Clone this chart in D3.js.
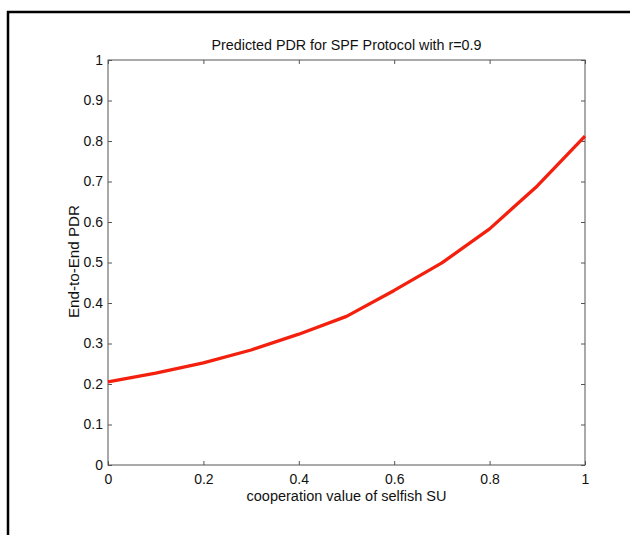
<!DOCTYPE html>
<html><head><meta charset="utf-8">
<script src="https://cdn.jsdelivr.net/npm/d3@7"></script>
<style>body{margin:0;background:#fff}svg{display:block}</style>
</head><body>
<script>
const xValues = [0,0.1,0.2,0.3,0.4,0.5,0.6,0.7,0.8,0.9,1];
const pdrValues = [0.205,0.227,0.252,0.284,0.323,0.367,0.431,0.499,0.583,0.689,0.812];
const xTicks = [0,0.2,0.4,0.6,0.8,1];
const yTicks = [0,0.1,0.2,0.3,0.4,0.5,0.6,0.7,0.8,0.9,1];
const titleText = "Predicted PDR for SPF Protocol with r=0.9";
const xLabel = "cooperation value of selfish SU";
const yLabel = "End-to-End PDR";

const W=630,H=535;
const L=108,R=585,T=60,B=465;
const svg=d3.select("body").append("svg").attr("width",W).attr("height",H);
svg.append("rect").attr("width",W).attr("height",H).attr("fill","#fff");
svg.append("line").attr("x1",8).attr("x2",8).attr("y1",11).attr("y2",H).attr("stroke","#000").attr("stroke-width",2.5);
svg.append("line").attr("x1",7).attr("x2",W).attr("y1",12).attr("y2",12).attr("stroke","#000").attr("stroke-width",2.5);

const x=d3.scaleLinear().domain([0,1]).range([L,R]);
const y=d3.scaleLinear().domain([0,1]).range([B,T]);
const font="'Liberation Sans', Arial, sans-serif";
const axCol="#555";

svg.append("rect").attr("x",L).attr("y",T).attr("width",R-L).attr("height",B-T).attr("fill","none").attr("stroke",axCol).attr("stroke-width",1);

const fmt=d=>d===0?"0":d===1?"1":String(d);
const gx=svg.append("g").attr("transform",`translate(0,${B})`).call(d3.axisBottom(x).tickValues(xTicks).tickFormat(fmt).tickSize(-4).tickPadding(9));
const gxt=svg.append("g").attr("transform",`translate(0,${T})`).call(d3.axisTop(x).tickValues(xTicks).tickFormat("").tickSize(-4));
const gy=svg.append("g").attr("transform",`translate(${L},0)`).call(d3.axisLeft(y).tickValues(yTicks).tickFormat(fmt).tickSize(-4).tickPadding(5));
const gyr=svg.append("g").attr("transform",`translate(${R},0)`).call(d3.axisRight(y).tickValues(yTicks).tickFormat("").tickSize(-4));
[gx,gxt,gy,gyr].forEach(g=>{
  g.select(".domain").remove();
  g.selectAll("line").attr("stroke",axCol);
  g.selectAll("text").attr("fill","#111").style("font-family",font).style("font-size","14px");
});

const line=d3.line().x((d,i)=>x(xValues[i])).y(d=>y(d));
svg.append("path").datum(pdrValues).attr("d",line).attr("fill","none").attr("stroke","#f4200e").attr("stroke-width",3.3).attr("stroke-linejoin","round");

svg.append("text").attr("x",(L+R)/2).attr("y",50).attr("text-anchor","middle").style("font-family",font).style("font-size","14px").attr("fill","#111")
  .attr("textLength",270).attr("lengthAdjust","spacingAndGlyphs").text(titleText);
svg.append("text").attr("x",(L+R)/2).attr("y",501).attr("text-anchor","middle").style("font-family",font).style("font-size","14px").attr("fill","#111")
  .attr("textLength",200).attr("lengthAdjust","spacingAndGlyphs").text(xLabel);
svg.append("text").attr("transform",`translate(79,261.5) rotate(-90)`).attr("text-anchor","middle").style("font-family",font).style("font-size","15px").attr("fill","#111")
  .attr("textLength",113).attr("lengthAdjust","spacingAndGlyphs").text(yLabel);
</script>
</body></html>
